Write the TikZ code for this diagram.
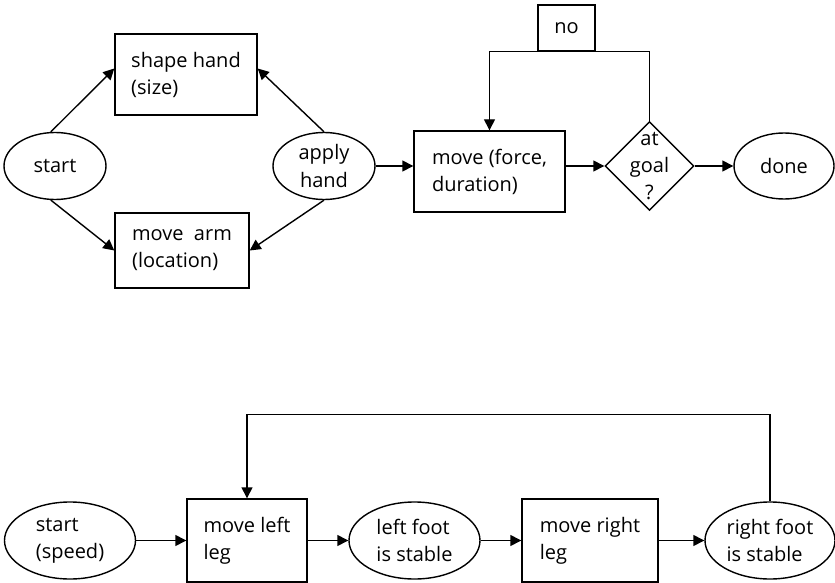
\documentclass[tikz,border=0pt]{standalone}
\usepackage{fontspec}
\setmainfont{Open Sans}
\usetikzlibrary{arrows.meta,positioning,shapes.geometric}

\begin{document}
\begin{tikzpicture}[-{Triangle[length=5.5pt,width=5.5pt]},line width=0.7pt,font=\fontsize{10pt}{13.5pt}\selectfont]
\tikzstyle{box}=[shape=rectangle,draw,align=left,inner sep=0pt]
\tikzstyle{oval}=[shape=ellipse,draw,align=center,inner sep=0.5pt]
\tikzstyle{test}=[shape=diamond,draw,align=center,inner sep=-3pt,minimum size=44.5pt]

\useasboundingbox (0,0) rectangle (417.5pt,-291.5pt);

\node[oval,minimum width=51pt,minimum height=33.5pt]  (start) at (27.5pt,-83pt) {start};
\node[box,minimum width=71pt,minimum height=40.5pt]   (shape) at (93pt,-37.25pt) {shape hand\\(size)};
\node[box,minimum width=67pt,minimum height=37.5pt]   (arm) at (91pt,-125.25pt) {move~~arm\\(location)};
\node[oval,minimum width=51pt,minimum height=33.5pt]  (apply) [right of=start,node distance=134.5pt] {apply\\hand};
\node[box,minimum width=75.5pt,minimum height=40.5pt] (move) at (244.75pt,-85.75pt) {move (force,\\duration)};
\node[test]                                           (goal) [right of=apply,node distance=162.75pt] {at\\goal\\?};
\node[oval,minimum width=50pt,minimum height=33pt]    (done) [right of=goal,node distance=67.25pt] {done};
\node[box,align=center,minimum width=28.5pt,minimum height=23pt] (no) at (283.25pt,-14pt) {no};

\path
(start.97) edge ([yshift=3pt]shape.west)
(start.263) edge (arm.west)
(apply.north) edge ([yshift=3pt]shape.east)
(apply.south) edge (arm.east)
(apply.east) edge (apply.east -| move.west)
(goal.west -| move.east) edge (goal.west)
(goal) edge (done);
\draw (goal.north) |- (no.south) -| (move.north);

\node[oval,align=left,minimum width=65.5pt,minimum height=38.5pt] (speed) at (35pt,-270.25pt) {start\\(speed)};
\node[box,minimum width=60pt,minimum height=41.5pt]   (lleg) [right of=speed,node distance=88.5pt] {move left\\leg};
\node[oval,align=left,minimum width=65.5pt,minimum height=38.5pt] (lfoot) [right of=lleg,node distance=83.75pt] {left foot\\is stable};
\node[box,minimum width=68pt,minimum height=41.5pt]   (rleg) [right of=lfoot,node distance=87.75pt] {move right\\leg};
\node[oval,align=left,minimum width=65pt,minimum height=38.5pt]   (rfoot) [right of=rleg,node distance=90pt] {right foot\\is stable};

\path
(speed) edge (lleg)
(lleg) edge (lfoot)
(lfoot) edge (rleg)
(rleg) edge (rfoot);
\draw (rfoot.north) -- ++(0,43.5pt) -| (lleg.north);
\end{tikzpicture}
\end{document}
